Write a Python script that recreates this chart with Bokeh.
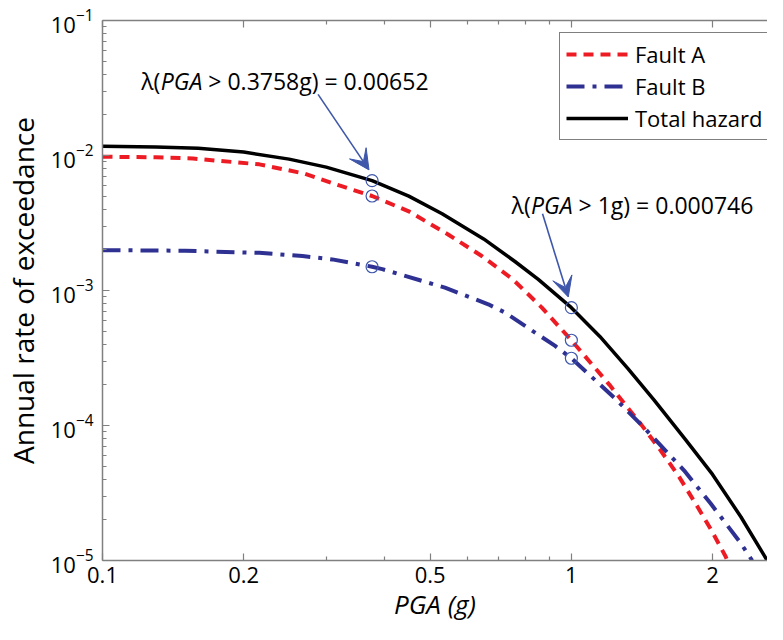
from bokeh.plotting import figure
from bokeh.models import (Range1d, FixedTicker, LogAxis, LogTickFormatter, Label,
                          Arrow, VeeHead, Legend, LegendItem, CustomJSTickFormatter)
from bokeh.embed import file_html
from bokeh.resources import INLINE

# ---------------- data ----------------
pga_a = [0.1, 0.13, 0.156, 0.216, 0.27, 0.32, 0.3758, 0.45, 0.547, 0.644, 0.75,
         0.864, 1.0, 1.206, 1.408, 1.552, 1.7, 1.858, 2.0, 2.133, 2.15]
rate_a = [0.0098, 0.0097, 0.0095, 0.0086, 0.00734, 0.0060, 0.00501, 0.00386,
          0.00259, 0.0018, 0.00121, 0.00075, 0.000428, 0.0002, 0.000102, 6.5e-5,
          4.13e-5, 2.5e-5, 1.62e-5, 1.07e-5, 1.0e-5]

pga_b = [0.1, 0.15, 0.216, 0.267, 0.309, 0.3758, 0.395, 0.5375, 0.665, 0.72,
         0.922, 1.0, 1.236, 1.431, 1.74, 1.982, 2.296, 2.43]
rate_b = [0.00199, 0.00197, 0.0019, 0.0018, 0.0017, 0.0015, 0.00144, 0.00105,
          0.00079, 0.00069, 0.00039, 0.000315, 0.00016, 9.6e-5, 4.64e-5, 2.64e-5,
          1.35e-5, 1.0e-5]

pga_t = [0.1, 0.13, 0.16, 0.2, 0.25, 0.3, 0.3758, 0.45, 0.53, 0.65, 0.758, 0.85,
         1.0, 1.15, 1.319, 1.5, 1.75, 2.0, 2.3, 2.616]
rate_t = [0.0117, 0.01155, 0.0113, 0.0106, 0.0094, 0.0082, 0.00652, 0.0050,
          0.0037, 0.00241, 0.00164, 0.00121, 0.000746, 0.000457, 0.000265,
          0.000155, 7.9e-5, 4.34e-5, 2.1e-5, 1.0e-5]

marked_pga = [0.3758, 1.0]

series_names = ["Fault A", "Fault B", "Total hazard"]

x_ticks = [0.1, 0.2, 0.5, 1, 2]
x_tick_labels = ["0.1", "0.2", "0.5", "1", "2"]
x_minor = [0.3, 0.4, 0.6, 0.7, 0.8, 0.9]
y_ticks = [1e-5, 1e-4, 1e-3, 1e-2, 1e-1]

ann1_parts = ["\u03bb(", "PGA", " > 0.3758g) = 0.00652"]
ann2_parts = ["\u03bb(", "PGA", " > 1g) = 0.000746"]
xlabel = "PGA (g)"
ylabel = "Annual rate of exceedance"

# ---------------- styling ----------------
RED = "#ed1c24"
BLUE = "#2e3192"
MARK = "#3f57aa"
AXIS = "#808080"
FONT = "Open Sans"

y_minor = [m * t for t in y_ticks[:-1] for m in range(2, 10)]

p = figure(width=767, height=624, x_axis_type="log", y_axis_type="log",
           x_range=Range1d(0.1, 2.62), y_range=Range1d(1e-5, 1e-1),
           output_backend="svg", toolbar_location=None,
           min_border_left=99, min_border_top=20, min_border_bottom=60,
           min_border_right=0)
p.grid.visible = False
p.outline_line_color = None
p.background_fill_color = "white"
p.border_fill_color = "white"

rA = p.line(pga_a, rate_a, line_color=RED, line_width=4, line_dash="10 7")
rB = p.line(pga_b, rate_b, line_color=BLUE, line_width=4, line_dash="18 8 4 8")
rT = p.line(pga_t, rate_t, line_color="black", line_width=3.5)

# markers at the annotated PGA values, taken from the series
mx, my = [], []
for xs, ys in ((pga_t, rate_t), (pga_a, rate_a), (pga_b, rate_b)):
    for xv in marked_pga:
        mx.append(xv)
        my.append(ys[xs.index(xv)])
p.scatter(mx, my, marker="circle", size=12, fill_color=None,
          line_color=MARK, line_width=1.2)

# axes
def style_axis(ax):
    ax.axis_line_color = AXIS
    ax.axis_line_width = 1.5
    ax.major_tick_line_color = AXIS
    ax.minor_tick_line_color = AXIS
    ax.major_tick_line_width = 1.2
    ax.minor_tick_line_width = 1.2
    ax.major_tick_in = 7
    ax.major_tick_out = 0
    ax.minor_tick_in = 4
    ax.minor_tick_out = 0
    ax.major_label_text_font = FONT
    ax.major_label_text_font_size = "22px"
    ax.major_label_text_color = "black"
    ax.axis_label_text_color = "black"

xax = p.xaxis[0]
xax.ticker = FixedTicker(ticks=x_ticks, minor_ticks=x_minor)
xax.major_label_overrides = {t: l for t, l in zip(x_ticks, x_tick_labels)}
style_axis(xax)
xax.major_label_standoff = 6
xax.axis_label = xlabel
xax.axis_label_text_font = FONT
xax.axis_label_text_font_size = "26px"
xax.axis_label_text_font_style = "italic"
xax.axis_label_standoff = 0

yax = p.yaxis[0]
yax.ticker = FixedTicker(ticks=y_ticks, minor_ticks=y_minor)
yax.formatter = LogTickFormatter()
style_axis(yax)
yax.major_label_standoff = 9
yax.axis_label = ylabel
yax.axis_label_text_font = FONT
yax.axis_label_text_font_size = "28px"
yax.axis_label_text_font_style = "normal"
yax.axis_label_standoff = 6

top = LogAxis(ticker=FixedTicker(ticks=x_ticks, minor_ticks=x_minor),
              formatter=CustomJSTickFormatter(code="return ''"))
style_axis(top)
top.major_label_standoff = 0
p.add_layout(top, "above")

# legend
legend = Legend(items=[LegendItem(label=series_names[0], renderers=[rA]),
                       LegendItem(label=series_names[1], renderers=[rB]),
                       LegendItem(label=series_names[2], renderers=[rT])],
                location=(457, 420))
legend.label_text_font = FONT
legend.label_text_font_size = "22px"
legend.label_text_color = "black"
legend.label_height = 30
legend.glyph_height = 30
legend.glyph_width = 62
legend.label_standoff = 7
legend.spacing = 2
legend.padding = 6
legend.margin = 0
legend.border_line_color = "black"
legend.border_line_width = 1
legend.background_fill_alpha = 1
p.add_layout(legend)

# arrows pointing to the total hazard values
t1 = rate_t[pga_t.index(marked_pga[0])]
t2 = rate_t[pga_t.index(marked_pga[1])]
for xv, yv, tail in ((marked_pga[0], t1, (0.767, 4.35)), (marked_pga[1], t2, (0.868, 4.96))):
    p.add_layout(Arrow(x_start=xv * tail[0], y_start=yv * tail[1],
                       x_end=xv * 0.985, y_end=yv * 1.2,
                       line_color=MARK, line_width=1.6,
                       end=VeeHead(size=20, fill_color=MARK, line_color=MARK)))

# annotation texts with italic PGA
def mixed_text(parts, x, y, size, offsets):
    styles = ["normal", "italic", "normal"]
    for part, off, st in zip(parts, offsets, styles):
        p.add_layout(Label(x=x, y=y, x_offset=off, text=part, text_font=FONT,
                           text_font_size=size, text_font_style=st,
                           text_color="black", text_baseline="alphabetic",
                           text_align="left"))

mixed_text(ann1_parts, 0.121, 0.0357, "23px", [0, 19.5, 67])
mixed_text(ann2_parts, 0.7456, 0.00433, "23px", [0, 19.5, 67])

open("out.html", "w").write(file_html(p, INLINE))
